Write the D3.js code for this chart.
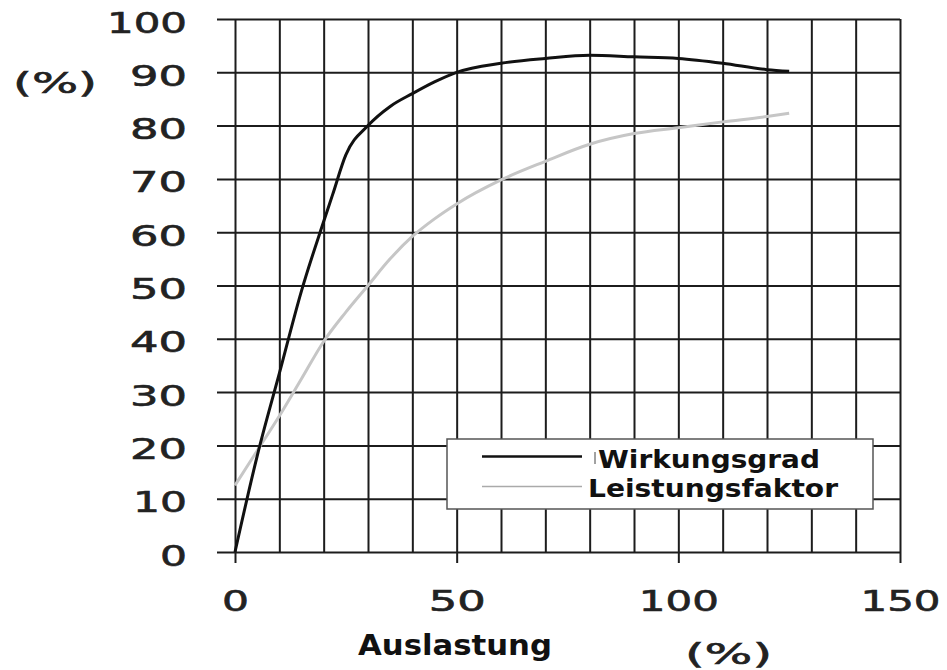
<!DOCTYPE html>
<html>
<head>
<meta charset="utf-8">
<script src="https://cdn.jsdelivr.net/npm/d3@7"></script>
<style>
  body { margin: 0; background: #fff; }
  svg { display: block; }
</style>
</head>
<body>
<svg width="947" height="670"></svg>
<script>
// Auslastung (%) -> Wirkungsgrad / Leistungsfaktor (%)
var lastX      = [0, 5, 10, 15, 20, 22, 25, 30, 35, 40, 45, 50, 60, 70, 80, 90, 100, 110, 120, 125];
var wirkung    = [0, 18, 33.5, 49, 62, 67, 74.5, 80, 83.6, 86, 88.2, 90, 91.7, 92.6, 93.2, 92.9, 92.6, 91.7, 90.5, 90.2];
var leistX     = [0, 5, 10, 15, 20, 25, 30, 35, 40, 45, 50, 60, 70, 80, 90, 100, 110, 120, 125];
var leistung   = [12.5, 19, 25.5, 32.5, 39.5, 45, 50, 55, 59.2, 62.5, 65.3, 69.8, 73.3, 76.5, 78.5, 79.6, 80.7, 81.7, 82.3];
var xTicks     = [0, 50, 100, 150];
var xGrid      = d3.range(0, 151, 10);
var yTicks     = d3.range(0, 101, 10);
var legendNames = ["Wirkungsgrad", "Leistungsfaktor"];

var svg = d3.select("svg"),
    margin = {top: 19, right: 47, bottom: 118, left: 235},
    width = svg.attr("width") - margin.left - margin.right,
    height = svg.attr("height") - margin.top - margin.bottom,
    g = svg.append("g").attr("transform", "translate(" + margin.left + "," + margin.top + ")");

var x = d3.scaleLinear().domain([0, 150]).range([0, width]),
    y = d3.scaleLinear().domain([0, 100]).range([height, 0]);

var numFont = "'DejaVu Sans', sans-serif";
var boldFont = "'DejaVu Sans', Verdana, sans-serif";

// width of the wide round digits in the picture
function labelWidth(s) {
  if (s.length == 1) return 27;
  if (s.length == 2) return s[0] == "1" ? 54 : 57;
  return 80;
}

// vertical grid
g.append("g")
    .attr("class", "grid grid--x")
    .attr("transform", "translate(0," + height + ")")
    .call(d3.axisBottom(x).tickValues(xGrid).tickSize(-height).tickFormat(""));

// long ticks + labels under 0/50/100/150
g.append("g")
    .attr("class", "axis axis--x")
    .attr("transform", "translate(0," + height + ")")
    .call(d3.axisBottom(x).tickValues(xTicks).tickSize(11));

g.selectAll(".axis--x text")
    .attr("y", 59)
    .attr("dy", null)
    .attr("textLength", function(d) { return labelWidth(String(d)); })
    .attr("lengthAdjust", "spacingAndGlyphs");

// horizontal grid, sticking out left as y ticks
g.append("g")
    .attr("class", "axis axis--y")
    .attr("transform", "translate(-18,0)")
    .call(d3.axisLeft(y).tickValues(yTicks).tickSize(-(width + 18)).tickPadding(30));

g.selectAll(".axis--y text")
    .attr("dy", null)
    .attr("y", 13)
    .attr("textLength", function(d) { return labelWidth(String(d)); })
    .attr("lengthAdjust", "spacingAndGlyphs");

g.selectAll(".domain").remove();
g.selectAll(".tick line").attr("stroke", "#1c1c1c").attr("stroke-width", 2);
g.selectAll(".tick text")
    .style("font-family", numFont)
    .style("font-size", "28px")
    .attr("fill", "#222")
    .attr("stroke", "#222")
    .attr("stroke-width", 0.6);

var line = d3.line()
    .x(function(d) { return x(d[0]); })
    .y(function(d) { return y(d[1]); })
    .curve(d3.curveMonotoneX);

var wData = lastX.map(function(v, i) { return [v, wirkung[i]]; });
var lData = leistX.map(function(v, i) { return [v, leistung[i]]; });

g.append("path")
    .attr("class", "line")
    .attr("d", line(lData))
    .attr("fill", "none")
    .attr("stroke", "#c6c6c6")
    .attr("stroke-width", 3);

g.append("path")
    .attr("class", "line")
    .attr("d", line(wData))
    .attr("fill", "none")
    .attr("stroke", "#111")
    .attr("stroke-width", 3);

// axis titles
svg.append("text")
    .attr("x", 13).attr("y", 93)
    .attr("textLength", 84).attr("lengthAdjust", "spacingAndGlyphs")
    .style("font-family", numFont).style("font-size", "28px")
    .attr("fill", "#222").attr("stroke", "#222").attr("stroke-width", 0.6)
    .text("(%)");

svg.append("text")
    .attr("x", 685).attr("y", 664)
    .attr("textLength", 87).attr("lengthAdjust", "spacingAndGlyphs")
    .style("font-family", numFont).style("font-size", "28px")
    .attr("fill", "#222").attr("stroke", "#222").attr("stroke-width", 0.6)
    .text("(%)");

svg.append("text")
    .attr("x", 358).attr("y", 655)
    .attr("textLength", 194).attr("lengthAdjust", "spacingAndGlyphs")
    .style("font-family", boldFont).style("font-size", "28px").style("font-weight", "bold")
    .attr("fill", "#111")
    .text("Auslastung");

// legend
var legend = svg.append("g").attr("class", "legend");
legend.append("rect")
    .attr("x", 447).attr("y", 439)
    .attr("width", 426).attr("height", 70)
    .attr("fill", "#fff")
    .attr("stroke", "#555")
    .attr("stroke-width", 1.5);

legend.append("line")
    .attr("x1", 482).attr("x2", 582).attr("y1", 456.5).attr("y2", 456.5)
    .attr("stroke", "#111").attr("stroke-width", 2.5);
legend.append("line")
    .attr("x1", 482).attr("x2", 582).attr("y1", 486.5).attr("y2", 486.5)
    .attr("stroke", "#aaa").attr("stroke-width", 1.5);
legend.append("line")
    .attr("x1", 595).attr("x2", 595).attr("y1", 452).attr("y2", 464)
    .attr("stroke", "#444").attr("stroke-width", 1);

legend.append("text")
    .attr("x", 598).attr("y", 468)
    .attr("textLength", 222).attr("lengthAdjust", "spacingAndGlyphs")
    .style("font-family", boldFont).style("font-size", "25px").style("font-weight", "bold")
    .attr("fill", "#111")
    .text(legendNames[0]);
legend.append("text")
    .attr("x", 588).attr("y", 497)
    .attr("textLength", 250).attr("lengthAdjust", "spacingAndGlyphs")
    .style("font-family", boldFont).style("font-size", "25px").style("font-weight", "bold")
    .attr("fill", "#111")
    .text(legendNames[1]);
</script>
</body>
</html>
